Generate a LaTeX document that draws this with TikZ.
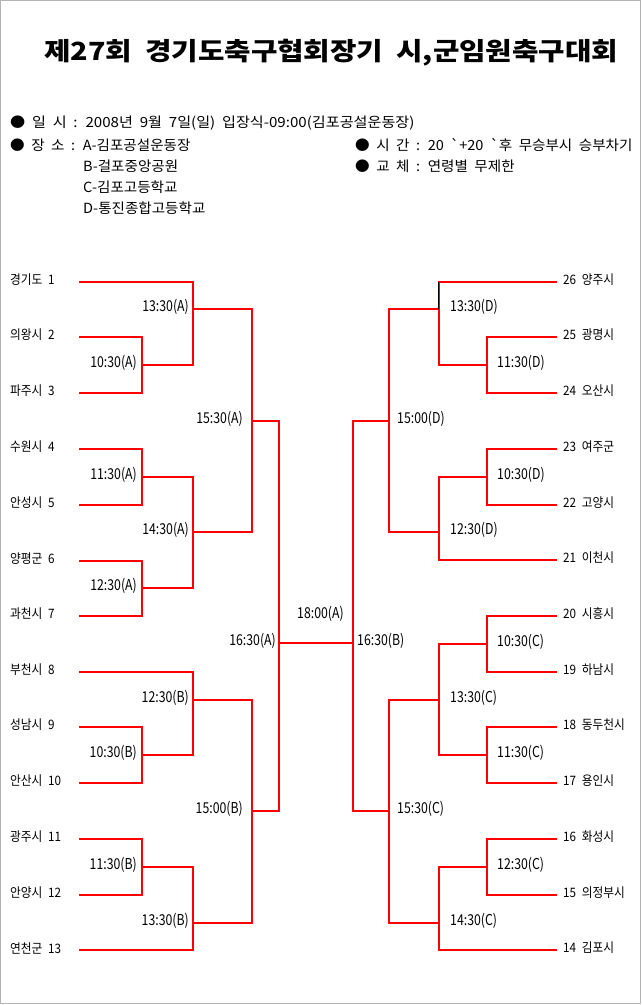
\documentclass[tikz,border=0pt]{standalone}
\usepackage{fontspec}
\newfontfamily\brk{Noto Sans CJK KR}[FakeStretch=0.9,WordSpace=2.2]
\newfontfamily\tim{Noto Sans CJK KR}[FakeStretch=0.82]
\newfontfamily\hdr{Noto Sans CJK KR}[FakeStretch=1.04,WordSpace=2.0]
\newfontfamily\hdrw{Noto Sans CJK KR}[FakeStretch=1.08,WordSpace=2.0]
\newfontfamily\ttl{Noto Sans CJK KR}[FakeStretch=1.15,WordSpace=2]
\definecolor{framegray}{RGB}{180,180,180}
\definecolor{wirered}{RGB}{255,0,0}
\tikzset{
  wire/.style={draw=wirered, line width=2.3pt},
  lbl/.style={font=\brk\fontsize{13}{13}\selectfont, inner sep=0pt},
  tlbl/.style={font=\tim\fontsize{15}{15}\selectfont, inner sep=0pt},
  lteam/.style={lbl, anchor=west},
  rteam/.style={lbl, anchor=west},
  lmatch/.style={tlbl, anchor=east},
  rmatch/.style={tlbl, anchor=west},
  hdrtext/.style={font=\hdr\fontsize{14}{14}\selectfont, inner sep=0pt, anchor=west},
  hdrwide/.style={font=\hdrw\fontsize{14}{14}\selectfont, inner sep=0pt, anchor=west},
  titletext/.style={font=\ttl\bfseries\fontsize{25}{25}\selectfont, inner sep=0pt, anchor=west},
}
\begin{document}
\begin{tikzpicture}[x=1pt,y=-1pt]
\path[use as bounding box] (0,0) rectangle (641,1005);
\draw[framegray, line width=1pt] (0.5,0.5) rectangle (640,1003.5);

% title and header
\node[titletext] (title) at (44,53) {제27회 경기도축구협회장기 시,군임원축구대회};
\node[hdrwide] (h1) at (10,123) {● 일 시 : 2008년 9월 7일(일) 입장식-09:00(김포공설운동장)};
\node[hdrtext] (h2) at (10,145) {● 장 소 : A-김포공설운동장};
\node[hdrtext] (h3) at (83,166) {B-걸포중앙공원};
\node[hdrtext] (h4) at (83,187) {C-김포고등학교};
\node[hdrtext] (h5) at (83,208) {D-통진종합고등학교};
\node[hdrtext] (h6) at (355,145) {● 시 간 : 20 `+20 `후 무승부시 승부차기};
\node[hdrtext] (h7) at (355,166) {● 교 체 : 연령별 무제한};

% ---------- left teams ----------
\foreach \n/\y/\t in {1/282/경기도 1, 2/337/의왕시 2, 3/393/파주시 3, 4/449/수원시 4,
  5/505/안성시 5, 6/561/양평군 6, 7/616/과천시 7, 8/672/부천시 8, 9/727/성남시 9,
  10/783/안산시 10, 11/839/광주시 11, 12/895/안양시 12, 13/950/연천군 13}{
  \node[lteam] (T\n) at (10,\y-2) {\t};
  \coordinate (t\n) at (79,\y);
}
% ---------- right teams ----------
\foreach \n/\y/\t in {26/282/26 양주시, 25/337/25 광명시, 24/393/24 오산시, 23/449/23 여주군,
  22/505/22 고양시, 21/560/21 이천시, 20/616/20 시흥시, 19/672/19 하남시, 18/727/18 동두천시,
  17/783/17 용인시, 16/839/16 화성시, 15/895/15 의정부시, 14/950/14 김포시}{
  \node[rteam] (T\n) at (563,\y-2) {\t};
  \coordinate (t\n) at (557,\y);
}

% ---------- junctions (left) ----------
\coordinate (jA10) at (142,365);
\coordinate (jA11) at (142,477);
\coordinate (jA12) at (142,588);
\coordinate (jA13) at (193,309);
\coordinate (jA14) at (193,532);
\coordinate (jA15) at (252,421);
\coordinate (jB10) at (142,755);
\coordinate (jB11) at (142,867);
\coordinate (jB12) at (193,700);
\coordinate (jB13) at (193,923);
\coordinate (jB15) at (252,811);
\coordinate (jA16) at (279,643);
% ---------- junctions (right) ----------
\coordinate (jD11) at (487,365);
\coordinate (jD10) at (487,477);
\coordinate (jD13) at (439,309);
\coordinate (jD12) at (439,532);
\coordinate (jD15) at (389,421);
\coordinate (jC10) at (487,644);
\coordinate (jC11) at (487,755);
\coordinate (jC12) at (487,867);
\coordinate (jC13) at (439,700);
\coordinate (jC14) at (439,923);
\coordinate (jC15) at (389,811);
\coordinate (jB16) at (353,643);

% ---------- connectors (left) ----------
\draw[wire] (t2) -| (jA10);  \draw[wire] (t3) -| (jA10);
\draw[wire] (t1) -| (jA13);  \draw[wire] (jA10) -| (jA13);
\draw[wire] (t4) -| (jA11);  \draw[wire] (t5) -| (jA11);
\draw[wire] (t6) -| (jA12);  \draw[wire] (t7) -| (jA12);
\draw[wire] (jA11) -| (jA14); \draw[wire] (jA12) -| (jA14);
\draw[wire] (jA13) -| (jA15); \draw[wire] (jA14) -| (jA15);
\draw[wire] (t9) -| (jB10);  \draw[wire] (t10) -| (jB10);
\draw[wire] (t8) -| (jB12);  \draw[wire] (jB10) -| (jB12);
\draw[wire] (t11) -| (jB11); \draw[wire] (t12) -| (jB11);
\draw[wire] (jB11) -| (jB13); \draw[wire] (t13) -| (jB13);
\draw[wire] (jB12) -| (jB15); \draw[wire] (jB13) -| (jB15);
\draw[wire] (jA15) -| (jA16); \draw[wire] (jB15) -| (jA16);
% ---------- connectors (right) ----------
\draw[wire] (t25) -| (jD11); \draw[wire] (t24) -| (jD11);
\draw[wire] (t26) -| (jD13); \draw[wire] (jD11) -| (jD13);
\draw[wire] (t23) -| (jD10); \draw[wire] (t22) -| (jD10);
\draw[wire] (jD10) -| (jD12); \draw[wire] (t21) -| (jD12);
\draw[wire] (jD13) -| (jD15); \draw[wire] (jD12) -| (jD15);
\draw[wire] (t20) -| (jC10); \draw[wire] (t19) -| (jC10);
\draw[wire] (t18) -| (jC11); \draw[wire] (t17) -| (jC11);
\draw[wire] (jC10) -| (jC13); \draw[wire] (jC11) -| (jC13);
\draw[wire] (t16) -| (jC12); \draw[wire] (t15) -| (jC12);
\draw[wire] (jC12) -| (jC14); \draw[wire] (t14) -| (jC14);
\draw[wire] (jC13) -| (jC15); \draw[wire] (jC14) -| (jC15);
\draw[wire] (jD15) -| (jB16); \draw[wire] (jC15) -| (jB16);
% final
\draw[wire] (jA16) -- (jB16);
% thin black stroke beside the 13:30(D) upright
\draw[black, line width=1.1pt] (438.5,282) -- (438.5,309);

% ---------- match labels (left) ----------
\node[lmatch] (mA13) at (189,307) {13:30(A)};
\node[lmatch] (mA10) at (137,363) {10:30(A)};
\node[lmatch] (mA15) at (243,419) {15:30(A)};
\node[lmatch] (mA11) at (137,475) {11:30(A)};
\node[lmatch] (mA14) at (189,530) {14:30(A)};
\node[lmatch] (mA12) at (137,586) {12:30(A)};
\node[lmatch] (mA16) at (276,641) {16:30(A)};
\node[lmatch] (mB12) at (189,698) {12:30(B)};
\node[lmatch] (mB10) at (137,753) {10:30(B)};
\node[lmatch] (mB15) at (243,809) {15:00(B)};
\node[lmatch] (mB11) at (137,865) {11:30(B)};
\node[lmatch] (mB13) at (189,921) {13:30(B)};
\node[tlbl, anchor=west] (final) at (297,614) {18:00(A)};
% ---------- match labels (right) ----------
\node[rmatch] (mD13) at (450,307) {13:30(D)};
\node[rmatch] (mD11) at (497,363) {11:30(D)};
\node[rmatch] (mD15) at (397,419) {15:00(D)};
\node[rmatch] (mD10) at (497,475) {10:30(D)};
\node[rmatch] (mD12) at (450,530) {12:30(D)};
\node[rmatch] (mB16) at (357,641) {16:30(B)};
\node[rmatch] (mC10) at (497,642) {10:30(C)};
\node[rmatch] (mC13) at (450,698) {13:30(C)};
\node[rmatch] (mC11) at (497,753) {11:30(C)};
\node[rmatch] (mC15) at (397,809) {15:30(C)};
\node[rmatch] (mC12) at (497,865) {12:30(C)};
\node[rmatch] (mC14) at (450,921) {14:30(C)};
\end{tikzpicture}
\end{document}
